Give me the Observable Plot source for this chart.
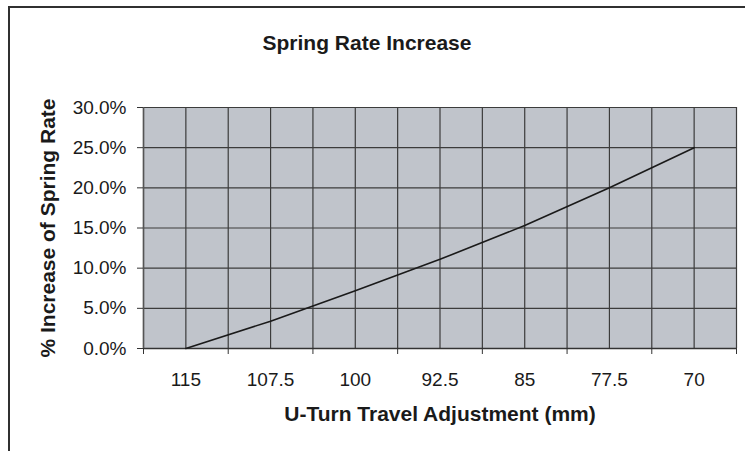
<!DOCTYPE html>
<html>
<head>
<meta charset="utf-8">
<script src="https://cdn.jsdelivr.net/npm/d3@7"></script>
<script src="https://cdn.jsdelivr.net/npm/@observablehq/plot@0.6"></script>
<style>
  html, body { margin: 0; padding: 0; background: #fff; }
  #wrap { position: relative; width: 745px; height: 451px; overflow: hidden; background: #fff;
          font-family: "Liberation Sans", Arial, sans-serif; }
  #border { position: absolute; left: 8px; top: 6px; width: 800px; height: 500px;
            border: 2px solid #303030; box-sizing: border-box; }
  #title { position: absolute; left: 0; width: 734px; top: 31px; text-align: center;
           font: bold 21px "Liberation Sans", Arial, sans-serif; color: #1a1a1a; }
  #chart { position: absolute; left: 0; top: 0; }
</style>
</head>
<body>
<div id="wrap">
  <div id="border"></div>
  <div id="chart"></div>
  <div id="title">Spring Rate Increase</div>
</div>
<script>
// Data
const travel = ["115", "107.5", "100", "92.5", "85", "77.5", "70"];
const increase = [0.000, 0.034, 0.072, 0.111, 0.153, 0.200, 0.250];
const yTicks = [0, 0.05, 0.10, 0.15, 0.20, 0.25, 0.30];

const data = travel.map((t, i) => ({i, t, v: increase[i]}));
const idx = travel.map((t, i) => i);
const bounds = d3.range(-0.5, travel.length, 1);        // category boundaries
const grid = d3.range(-0.5, travel.length, 0.5);        // boundaries + centers
const font = "'Liberation Sans', Arial, sans-serif";

const chart = Plot.plot({
  width: 745,
  height: 451,
  marginLeft: 143,
  marginRight: 9,
  marginTop: 107,
  marginBottom: 103,
  style: {fontFamily: font, background: "transparent", color: "#1a1a1a"},
  x: {domain: [-0.5, travel.length - 0.5], axis: null, label: null},
  y: {domain: [0, 0.30], axis: null, label: null},
  marks: [
    Plot.frame({fill: "#c0c4cb", stroke: "#6a6a6a"}),
    Plot.gridX(grid, {stroke: "#3c3c3c", strokeOpacity: 1, strokeWidth: 1.2}),
    Plot.gridY(yTicks, {stroke: "#3c3c3c", strokeOpacity: 1, strokeWidth: 1.2}),
    Plot.ruleY([0], {stroke: "#333", strokeWidth: 1.5}),
    Plot.ruleX([-0.5], {stroke: "#555", strokeWidth: 1.5}),
    Plot.axisY(yTicks, {label: null, tickFormat: d3.format(".1%"), tickSize: 6, tickPadding: 11,
      fontSize: 19, stroke: "#333", fill: "#1a1a1a"}),
    Plot.axisX(bounds, {label: null, tickSize: 6, tickFormat: () => "", stroke: "#333"}),
    Plot.axisX(idx, {label: null, tickSize: 0, tickPadding: 24, tickFormat: i => travel[i],
      fontSize: 19, fill: "#1a1a1a"}),
    Plot.line(data, {x: "i", y: "v", stroke: "#1a1a1a", strokeWidth: 1.6}),
    Plot.text(["% Increase of Spring Rate"], {frameAnchor: "left", textAnchor: "middle",
      lineAnchor: "middle", dx: -95, rotate: -90,
      fontSize: 21, fontWeight: "bold", fill: "#1a1a1a"}),
    Plot.text(["U-Turn Travel Adjustment (mm)"], {frameAnchor: "bottom", lineAnchor: "middle",
      dy: 66, fontSize: 21, fontWeight: "bold", fill: "#1a1a1a"})
  ]
});
document.getElementById("chart").appendChild(chart);
</script>
</body>
</html>
